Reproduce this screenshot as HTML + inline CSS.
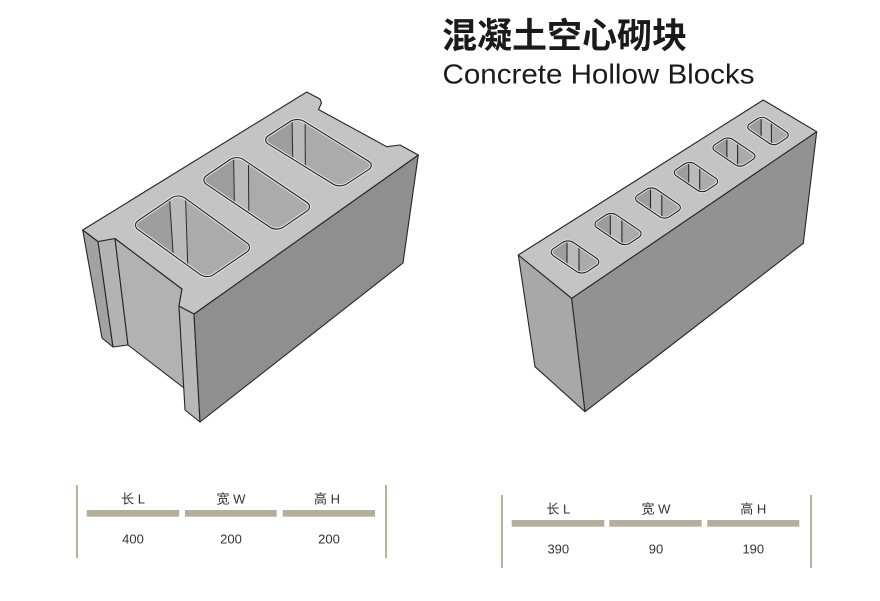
<!DOCTYPE html>
<html><head><meta charset="utf-8">
<style>
html,body{margin:0;padding:0;background:#fff;}
svg{display:block;}
.t{font-family:"Liberation Sans","Noto Sans CJK SC",sans-serif;}
</style></head>
<body>
<svg width="880" height="601" viewBox="0 0 880 601" xmlns="http://www.w3.org/2000/svg">
<defs>
  <clipPath id="a1"><rect width="56.4" height="92.6" rx="8" transform="matrix(0.827,-0.562,0.810,0.586,131.7,225)"/></clipPath>
  <clipPath id="a2"><rect width="44.4" height="92.5" rx="8" transform="matrix(0.826,-0.563,0.829,0.559,200,180)"/></clipPath>
  <clipPath id="a3"><rect width="42.1" height="92" rx="8" transform="matrix(0.838,-0.546,0.851,0.525,261.7,140)"/></clipPath>
  <clipPath id="b0"><rect width="24" height="41" rx="6.5" transform="translate(548.05,252.15) matrix(0.833,-0.554,0.827,0.562,0,0)"/></clipPath>
  <clipPath id="b1"><rect width="23.28" height="39.77" rx="6.3" transform="translate(591.86,224.3) matrix(0.833,-0.554,0.827,0.562,0,0)"/></clipPath>
  <clipPath id="b2"><rect width="22.56" height="38.54" rx="6.1" transform="translate(632.67,198.44) matrix(0.833,-0.554,0.827,0.562,0,0)"/></clipPath>
  <clipPath id="b3"><rect width="21.84" height="37.31" rx="5.9" transform="translate(671.48,172.59) matrix(0.833,-0.554,0.827,0.562,0,0)"/></clipPath>
  <clipPath id="b4"><rect width="21.12" height="36.08" rx="5.7" transform="translate(710.28,147.73) matrix(0.833,-0.554,0.827,0.562,0,0)"/></clipPath>
  <clipPath id="b5"><rect width="20.4" height="34.85" rx="5.5" transform="translate(745.09,126.88) matrix(0.833,-0.554,0.827,0.562,0,0)"/></clipPath>
</defs>
<rect width="880" height="601" fill="#fff"/>

<!-- Title -->
<text class="t" x="442" y="48" font-size="35" font-weight="bold" fill="#1a1a1a" textLength="245" lengthAdjust="spacingAndGlyphs">混凝土空心砌块</text>
<text class="t" x="442.5" y="83.5" font-size="27.5" fill="#1a1a1a" textLength="312" lengthAdjust="spacingAndGlyphs">Concrete Hollow Blocks</text>

<!-- LEFT BLOCK -->
<g stroke="#262626" stroke-width="1.1" stroke-linejoin="round">
  <polygon points="82.7,230 98,241.5 113,347 102,338" fill="#a2a2a2"/>
  <polygon points="98,241.5 115,238.5 128,345 113,347" fill="#b3b3b3"/>
  <polygon points="115,238.5 182,289 179,306 184,388 128,345" fill="#b2b2b2"/>
  <polygon points="179,306 194,314 200,422 185,410" fill="#b7b7b7"/>
  <polygon points="194,314 418.3,155 403,263 200,422" fill="#8f8f8f"/>
  <polygon points="82.7,230 306.7,92 320,99 321.5,103 318.5,109.5 386.7,146.7 400,145 418.3,155 194,314 179,306 182,289 115,238.5 98,241.5" fill="#c4c4c4"/>
</g>

<!-- left holes -->
<g clip-path="url(#a1)">
  <rect x="120" y="180" width="150" height="110" fill="#ababab"/>
  <polygon points="115,180 168.3,180 175,290 115,290" fill="#9d9d9d"/>
  <polygon points="168.3,180 185,180 188.5,290 175,290" fill="#bababa"/>
  <line x1="168.3" y1="180" x2="175.5" y2="290" stroke="#2a2a2a" stroke-width="1"/>
  <line x1="185" y1="180" x2="188.5" y2="290" stroke="#2a2a2a" stroke-width="1"/>
</g>
<g clip-path="url(#a2)">
  <rect x="190" y="140" width="140" height="100" fill="#ababab"/>
  <polygon points="190,140 233.3,140 235,240 190,240" fill="#9d9d9d"/>
  <polygon points="233.3,140 248.3,140 249,240 235,240" fill="#bababa"/>
  <line x1="233.3" y1="140" x2="235" y2="240" stroke="#2a2a2a" stroke-width="1"/>
  <line x1="248.3" y1="140" x2="249" y2="240" stroke="#2a2a2a" stroke-width="1"/>
</g>
<g clip-path="url(#a3)">
  <rect x="250" y="100" width="140" height="100" fill="#ababab"/>
  <polygon points="250,100 291.7,100 293.5,200 250,200" fill="#9d9d9d"/>
  <polygon points="291.7,100 305,100 305.5,200 293.5,200" fill="#bababa"/>
  <line x1="291.7" y1="100" x2="293.5" y2="200" stroke="#2a2a2a" stroke-width="1"/>
  <line x1="305" y1="100" x2="305.5" y2="200" stroke="#2a2a2a" stroke-width="1"/>
</g>
<g fill="none">
  <rect width="56.4" height="92.6" rx="8" transform="matrix(0.827,-0.562,0.810,0.586,131.7,225)" stroke="#e4e4e4" stroke-width="3.2" vector-effect="non-scaling-stroke"/>
  <rect width="56.4" height="92.6" rx="8" transform="matrix(0.827,-0.562,0.810,0.586,131.7,225)" stroke="#222" stroke-width="1.1" vector-effect="non-scaling-stroke"/>
  <rect width="44.4" height="92.5" rx="8" transform="matrix(0.826,-0.563,0.829,0.559,200,180)" stroke="#e4e4e4" stroke-width="3.2" vector-effect="non-scaling-stroke"/>
  <rect width="44.4" height="92.5" rx="8" transform="matrix(0.826,-0.563,0.829,0.559,200,180)" stroke="#222" stroke-width="1.1" vector-effect="non-scaling-stroke"/>
  <rect width="42.1" height="92" rx="8" transform="matrix(0.838,-0.546,0.851,0.525,261.7,140)" stroke="#e4e4e4" stroke-width="3.2" vector-effect="non-scaling-stroke"/>
  <rect width="42.1" height="92" rx="8" transform="matrix(0.838,-0.546,0.851,0.525,261.7,140)" stroke="#222" stroke-width="1.1" vector-effect="non-scaling-stroke"/>
</g>

<!-- RIGHT BLOCK -->
<g stroke="#262626" stroke-width="1.1" stroke-linejoin="round">
  <polygon points="518.3,255 571.7,298.3 585,411.7 535,366.7" fill="#a8a8a8"/>
  <polygon points="571.7,298.3 816.7,131.7 803.3,243.3 585,411.7" fill="#929292"/>
  <polygon points="518.3,255 763.3,100 816.7,131.7 571.7,298.3" fill="#c4c4c4"/>
</g>

<!-- right holes -->
<g clip-path="url(#b0)">
  <rect x="540" y="230" width="70" height="50" fill="#ababab"/>
  <rect x="540" y="230" width="27" height="50" fill="#9d9d9d"/>
  <rect x="567" y="230" width="12" height="50" fill="#bababa"/>
  <line x1="567" y1="230" x2="567" y2="280" stroke="#2a2a2a" stroke-width="1.1"/>
  <line x1="579" y1="230" x2="579" y2="280" stroke="#2a2a2a" stroke-width="1.1"/>
</g>
<g clip-path="url(#b1)">
  <rect x="585" y="200" width="70" height="50" fill="#ababab"/>
  <rect x="585" y="200" width="25.3" height="50" fill="#9d9d9d"/>
  <rect x="610.3" y="200" width="11.6" height="50" fill="#bababa"/>
  <line x1="610.3" y1="200" x2="610.3" y2="250" stroke="#2a2a2a" stroke-width="1.1"/>
  <line x1="621.9" y1="200" x2="621.9" y2="250" stroke="#2a2a2a" stroke-width="1.1"/>
</g>
<g clip-path="url(#b2)">
  <rect x="625" y="175" width="70" height="50" fill="#ababab"/>
  <rect x="625" y="175" width="25.5" height="50" fill="#9d9d9d"/>
  <rect x="650.5" y="175" width="11.3" height="50" fill="#bababa"/>
  <line x1="650.5" y1="175" x2="650.5" y2="225" stroke="#2a2a2a" stroke-width="1.1"/>
  <line x1="661.8" y1="175" x2="661.8" y2="225" stroke="#2a2a2a" stroke-width="1.1"/>
</g>
<g clip-path="url(#b3)">
  <rect x="665" y="150" width="70" height="50" fill="#ababab"/>
  <rect x="665" y="150" width="23.7" height="50" fill="#9d9d9d"/>
  <rect x="688.7" y="150" width="11" height="50" fill="#bababa"/>
  <line x1="688.7" y1="150" x2="688.7" y2="200" stroke="#2a2a2a" stroke-width="1.1"/>
  <line x1="699.7" y1="150" x2="699.7" y2="200" stroke="#2a2a2a" stroke-width="1.1"/>
</g>
<g clip-path="url(#b4)">
  <rect x="700" y="125" width="70" height="50" fill="#ababab"/>
  <rect x="700" y="125" width="26.9" height="50" fill="#9d9d9d"/>
  <rect x="726.9" y="125" width="10.7" height="50" fill="#bababa"/>
  <line x1="726.9" y1="125" x2="726.9" y2="175" stroke="#2a2a2a" stroke-width="1.1"/>
  <line x1="737.6" y1="125" x2="737.6" y2="175" stroke="#2a2a2a" stroke-width="1.1"/>
</g>
<g clip-path="url(#b5)">
  <rect x="740" y="105" width="60" height="50" fill="#ababab"/>
  <rect x="740" y="105" width="21.1" height="50" fill="#9d9d9d"/>
  <rect x="761.1" y="105" width="10.3" height="50" fill="#bababa"/>
  <line x1="761.1" y1="105" x2="761.1" y2="155" stroke="#2a2a2a" stroke-width="1.1"/>
  <line x1="771.4" y1="105" x2="771.4" y2="155" stroke="#2a2a2a" stroke-width="1.1"/>
</g>
<g fill="none">
  <rect width="24" height="41" rx="6.5" transform="translate(548.05,252.15) matrix(0.833,-0.554,0.827,0.562,0,0)" stroke="#e4e4e4" stroke-width="3" vector-effect="non-scaling-stroke"/>
  <rect width="24" height="41" rx="6.5" transform="translate(548.05,252.15) matrix(0.833,-0.554,0.827,0.562,0,0)" stroke="#222" stroke-width="1.1" vector-effect="non-scaling-stroke"/>
  <rect width="23.28" height="39.77" rx="6.3" transform="translate(591.86,224.3) matrix(0.833,-0.554,0.827,0.562,0,0)" stroke="#e4e4e4" stroke-width="3" vector-effect="non-scaling-stroke"/>
  <rect width="23.28" height="39.77" rx="6.3" transform="translate(591.86,224.3) matrix(0.833,-0.554,0.827,0.562,0,0)" stroke="#222" stroke-width="1.1" vector-effect="non-scaling-stroke"/>
  <rect width="22.56" height="38.54" rx="6.1" transform="translate(632.67,198.44) matrix(0.833,-0.554,0.827,0.562,0,0)" stroke="#e4e4e4" stroke-width="3" vector-effect="non-scaling-stroke"/>
  <rect width="22.56" height="38.54" rx="6.1" transform="translate(632.67,198.44) matrix(0.833,-0.554,0.827,0.562,0,0)" stroke="#222" stroke-width="1.1" vector-effect="non-scaling-stroke"/>
  <rect width="21.84" height="37.31" rx="5.9" transform="translate(671.48,172.59) matrix(0.833,-0.554,0.827,0.562,0,0)" stroke="#e4e4e4" stroke-width="3" vector-effect="non-scaling-stroke"/>
  <rect width="21.84" height="37.31" rx="5.9" transform="translate(671.48,172.59) matrix(0.833,-0.554,0.827,0.562,0,0)" stroke="#222" stroke-width="1.1" vector-effect="non-scaling-stroke"/>
  <rect width="21.12" height="36.08" rx="5.7" transform="translate(710.28,147.73) matrix(0.833,-0.554,0.827,0.562,0,0)" stroke="#e4e4e4" stroke-width="3" vector-effect="non-scaling-stroke"/>
  <rect width="21.12" height="36.08" rx="5.7" transform="translate(710.28,147.73) matrix(0.833,-0.554,0.827,0.562,0,0)" stroke="#222" stroke-width="1.1" vector-effect="non-scaling-stroke"/>
  <rect width="20.4" height="34.85" rx="5.5" transform="translate(745.09,126.88) matrix(0.833,-0.554,0.827,0.562,0,0)" stroke="#e4e4e4" stroke-width="3" vector-effect="non-scaling-stroke"/>
  <rect width="20.4" height="34.85" rx="5.5" transform="translate(745.09,126.88) matrix(0.833,-0.554,0.827,0.562,0,0)" stroke="#222" stroke-width="1.1" vector-effect="non-scaling-stroke"/>
</g>

<!-- LEFT TABLE -->
<g>
  <rect x="76" y="485" width="2" height="73" fill="#b8b0a0"/>
  <rect x="385" y="485" width="2" height="73" fill="#b8b0a0"/>
  <rect x="86.7" y="510" width="92.6" height="6.7" fill="#b5ad9d"/>
  <rect x="185" y="510" width="91.7" height="6.7" fill="#b5ad9d"/>
  <rect x="282.7" y="510" width="92.3" height="6.7" fill="#b5ad9d"/>
  <g class="t" font-size="13" fill="#333" text-anchor="middle">
    <text x="133" y="503.5">长 L</text>
    <text x="231" y="503.5">宽 W</text>
    <text x="327" y="503.5">高 H</text>
    <text x="133" y="543.5">400</text>
    <text x="231" y="543.5">200</text>
    <text x="329" y="543.5">200</text>
  </g>
</g>

<!-- RIGHT TABLE -->
<g>
  <rect x="501" y="495" width="2" height="73" fill="#b8b0a0"/>
  <rect x="810" y="495" width="2" height="73" fill="#b8b0a0"/>
  <rect x="511.7" y="520" width="92.6" height="6.7" fill="#b5ad9d"/>
  <rect x="609.3" y="520" width="92.4" height="6.7" fill="#b5ad9d"/>
  <rect x="707.3" y="520" width="92" height="6.7" fill="#b5ad9d"/>
  <g class="t" font-size="13" fill="#333" text-anchor="middle">
    <text x="558.3" y="513.5">长 L</text>
    <text x="656" y="513.5">宽 W</text>
    <text x="753.3" y="513.5">高 H</text>
    <text x="558.3" y="553.5">390</text>
    <text x="656" y="553.5">90</text>
    <text x="753.3" y="553.5">190</text>
  </g>
</g>
</svg>
</body></html>
